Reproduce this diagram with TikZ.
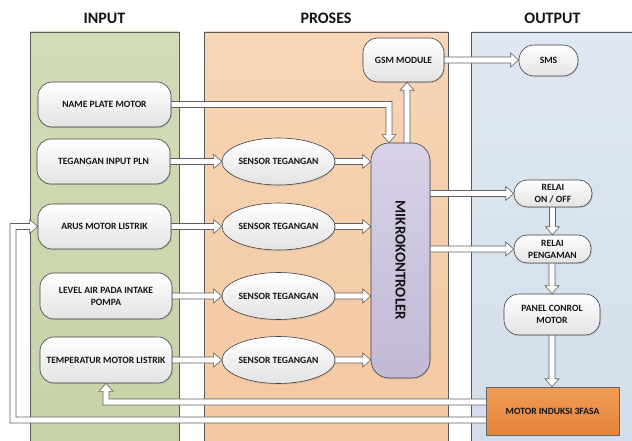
\documentclass[tikz,border=0pt]{standalone}
\usepackage{fontspec}
\setmainfont{Carlito}
\usetikzlibrary{calc,shapes.geometric,shadows}
\pgfdeclarelayer{panel}
\pgfdeclarelayer{arr}
\pgfsetlayers{panel,arr,main}
\definecolor{ingreenT}{HTML}{D2DCB8}
\definecolor{ingreenB}{HTML}{C6D2A6}
\definecolor{prosT}{HTML}{F7D5B6}
\definecolor{prosB}{HTML}{F2C8A0}
\definecolor{outT}{HTML}{DFE8F2}
\definecolor{outB}{HTML}{D2DEEB}
\definecolor{mikT}{HTML}{D8D2E8}
\definecolor{mikB}{HTML}{C1B8D6}
\definecolor{motT}{HTML}{EF9D58}
\definecolor{motB}{HTML}{E5833A}
\definecolor{txt}{HTML}{141414}
% right-pointing block arrow from #1 to x of #2
\newcommand{\arrR}[2]{\draw[barrow] let \p1=(#1), \p2=(#2) in
  (\x1-2pt,\y1+3pt) -- (\x2-8pt,\y1+3pt) -- (\x2-8pt,\y1+7pt) -- (\x2,\y1)
  -- (\x2-8pt,\y1-7pt) -- (\x2-8pt,\y1-3pt) -- (\x1-2pt,\y1-3pt) -- cycle;}
% down-pointing block arrow from #1 to y of #2
\newcommand{\arrD}[2]{\draw[barrow] let \p1=(#1), \p2=(#2) in
  (\x1-3pt,\y1+2pt) -- (\x1-3pt,\y2+8pt) -- (\x1-7pt,\y2+8pt) -- (\x1,\y2)
  -- (\x1+7pt,\y2+8pt) -- (\x1+3pt,\y2+8pt) -- (\x1+3pt,\y1+2pt) -- cycle;}
% up-pointing block arrow from #1 to y of #2
\newcommand{\arrU}[2]{\draw[barrow] let \p1=(#1), \p2=(#2) in
  (\x1-3pt,\y1-2pt) -- (\x1-3pt,\y2-8pt) -- (\x1-7pt,\y2-8pt) -- (\x1,\y2)
  -- (\x1+7pt,\y2-8pt) -- (\x1+3pt,\y2-8pt) -- (\x1+3pt,\y1-2pt) -- cycle;}
\begin{document}
\begin{tikzpicture}[x=1pt,y=-1pt,
  every node/.style={text=txt},
  header/.style={font=\fontsize{16}{19}\selectfont\bfseries, anchor=base},
  box/.style={draw=black!75, line width=0.6pt, rounded corners=14pt,
    top color=white, bottom color=black!11, align=center, inner sep=0pt,
    font=\fontsize{9.6}{12}\selectfont\bfseries,
    drop shadow={shadow xshift=1pt, shadow yshift=-1.2pt, opacity=0.22}},
  sens/.style={box, ellipse, minimum width=103pt, minimum height=47pt},
  barrow/.style={draw=black!62, fill=white, line width=0.6pt, line join=miter},
  panelbox/.style={draw=black!65, line width=0.6pt}]
\useasboundingbox (0,0) rectangle (632,441);
\clip (0,0) rectangle (632,441);
% panels
\begin{pgfonlayer}{panel}
\fill[white] (0,0) rectangle (632,441);
\draw[panelbox, top color=ingreenT, bottom color=ingreenB] (30,32) rectangle (179,450);
\draw[panelbox, top color=prosT, bottom color=prosB] (204,32) rectangle (448,450);
\draw[panelbox, top color=outT, bottom color=outB] (471,32) rectangle (650,450);
\end{pgfonlayer}
% headers
\node[header] (hin) at (104.5,23.5) {INPUT};
\node[header] (hpr) at (326,23.5) {PROSES};
\node[header] (hout) at (552.5,23.5) {OUTPUT};
% input nodes
\node[box, minimum width=133pt, minimum height=45pt] (np) at (104.5,104.5) {NAME PLATE MOTOR};
\node[box, minimum width=133pt, minimum height=45pt] (pln) at (103.5,161.5) {TEGANGAN INPUT PLN};
\node[box, minimum width=133pt, minimum height=45pt] (arus) at (104.5,226.5) {ARUS MOTOR LISTRIK};
\node[box, minimum width=132pt, minimum height=46pt] (lvl) at (106,296) {LEVEL AIR PADA INTAKE\\POMPA};
\node[box, minimum width=132pt, minimum height=46pt] (temp) at (106,360) {TEMPERATUR MOTOR LISTRIK};
% sensors
\node[sens] (s1) at (278.5,161.5) {SENSOR TEGANGAN};
\node[sens] (s2) at (278.5,226.5) {SENSOR TEGANGAN};
\node[sens] (s3) at (278.5,296) {SENSOR TEGANGAN};
\node[sens] (s4) at (278.5,360) {SENSOR TEGANGAN};
% process
\node[box, rounded corners=18pt, minimum width=59pt, minimum height=235pt,
  top color=mikT, bottom color=mikB] (mik) at (400.5,260.5) {};
\node[rotate=-90, font=\fontsize{15}{18}\selectfont\bfseries] (mikt) at (mik.center) {MIKROKONTROLER};
\node[box, minimum width=81pt, minimum height=44pt, rounded corners=15pt] (gsm) at (403.5,60) {GSM MODULE};
% output
\node[box, minimum width=59pt, minimum height=31pt, rounded corners=15pt] (sms) at (548.5,60.5) {SMS};
\node[box, minimum width=78pt, minimum height=27pt, rounded corners=13pt] (r1) at (553,193.5) {RELAI\\[-0.5pt]ON / OFF};
\node[box, minimum width=77pt, minimum height=28pt, rounded corners=13pt] (r2) at (552.5,249) {RELAI\\PENGAMAN};
\node[box, minimum width=96pt, minimum height=41pt, rounded corners=15pt] (pc) at (552,314.5) {PANEL CONROL\\MOTOR};
\node[box, rounded corners=0pt, minimum width=133pt, minimum height=48pt,
  top color=motT, bottom color=motB, draw=black!60] (mot) at (552.5,411) {MOTOR INDUKSI 3FASA};
\coordinate (fbx) at (13,420);
% arrows
\begin{pgfonlayer}{arr}
\arrR{pln.east}{s1.west}
\arrR{arus.east}{s2.west}
\arrR{lvl.east}{s3.west}
\arrR{temp.east}{s4.west}
\arrR{s1.east}{mik.west}
\arrR{s2.east}{mik.west}
\arrR{s3.east}{mik.west}
\arrR{s4.east}{mik.west}
\arrR{gsm.east}{sms.west}
\arrR{$(mik.east|-r1.west)$}{r1.west}
\arrR{$(mik.east|-r2.west)$}{r2.west}
\arrU{$(mik.north)+(6.5,0)$}{gsm.south}
\arrD{$(r1.south)+(-0.5,0)$}{r2.north}
\arrD{$(r2.south)+(-0.5,0)$}{pc.north}
\arrD{pc.south}{mot.north}
% name plate -> mikrokontroler
\draw[barrow] let \p1=(np.east), \p2=($(mik.north)+(-11.5,0)$) in
  (\x1-2pt,\y1+3pt) -- (\x2+3pt,\y1+3pt) -- (\x2+3pt,\y2+8pt) -- (\x2+7pt,\y2+8pt)
  -- (\x2,\y2) -- (\x2-7pt,\y2+8pt) -- (\x2-3pt,\y2+8pt) -- (\x2-3pt,\y1-3pt)
  -- (\x1-2pt,\y1-3pt) -- cycle;
% motor -> temperatur
\draw[barrow] let \p1=($(mot.west)+(0,-9)$), \p2=(temp.south) in
  (\x1+2pt,\y1+3pt) -- (\x2+3pt,\y1+3pt) -- (\x2+3pt,\y2-8pt) -- (\x2+7pt,\y2-8pt)
  -- (\x2,\y2) -- (\x2-7pt,\y2-8pt) -- (\x2-3pt,\y2-8pt) -- (\x2-3pt,\y1-3pt)
  -- (\x1+2pt,\y1-3pt) -- cycle;
% motor -> arus
\draw[barrow] let \p1=($(mot.west)+(0,9)$), \p2=(arus.west), \p3=(fbx) in
  (\x1+2pt,\y1+3pt) -- (\x3+3pt,\y1+3pt) -- (\x3+3pt,\y2-3pt) -- (\x2-8pt,\y2-3pt)
  -- (\x2-8pt,\y2-7pt) -- (\x2,\y2) -- (\x2-8pt,\y2+7pt) -- (\x2-8pt,\y2+3pt)
  -- (\x3-3pt,\y2+3pt) -- (\x3-3pt,\y1-3pt) -- (\x1+2pt,\y1-3pt) -- cycle;
\end{pgfonlayer}
\end{tikzpicture}
\end{document}
